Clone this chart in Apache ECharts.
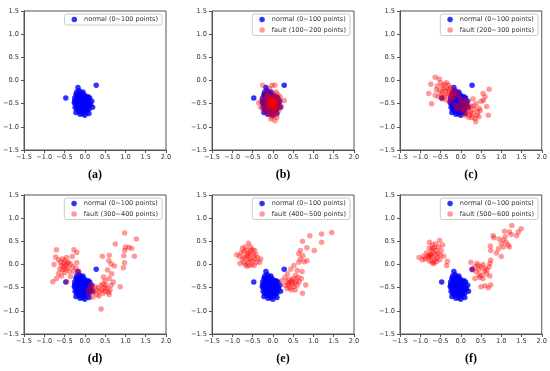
<!DOCTYPE html>
<html>
<head>
<meta charset="utf-8">
<script src="https://cdn.jsdelivr.net/npm/echarts@6/dist/echarts.min.js"></script>
<style>html,body{margin:0;padding:0;background:#fff}#c{width:550px;height:371px}</style>
</head>
<body>
<div id="c"></div>
<script>
const xTicks = [-1.5, -1.0, -0.5, 0.0, 0.5, 1.0, 1.5, 2.0];
const yTicks = [-1.5, -1.0, -0.5, 0.0, 0.5, 1.0, 1.5];
const captions = ['(a)', '(b)', '(c)', '(d)', '(e)', '(f)'];
const normalName = 'normal (0~100 points)';
const faultNames = [null, 'fault (100~200 points)', 'fault (200~300 points)', 'fault (300~400 points)', 'fault (400~500 points)', 'fault (500~600 points)'];

const normal = [
[-0.47,-0.38],[0.28,-0.10],[-0.17,-0.15],[-0.14,-0.22],[-0.20,-0.25],[-0.10,-0.27],[-0.05,-0.25],[-0.22,-0.30],[-0.12,-0.30],[-0.02,-0.30],
[0.03,-0.35],[0.08,-0.35],[0.12,-0.38],[-0.25,-0.38],[-0.18,-0.36],[-0.08,-0.36],[0.00,-0.40],[0.05,-0.42],[0.17,-0.45],[-0.26,-0.48],
[-0.20,-0.44],[-0.14,-0.42],[-0.06,-0.44],[0.02,-0.46],[0.10,-0.46],[-0.22,-0.52],[-0.16,-0.50],[-0.10,-0.48],[-0.03,-0.50],[0.06,-0.52],
[0.12,-0.50],[-0.24,-0.58],[-0.18,-0.56],[-0.12,-0.55],[-0.05,-0.56],[0.02,-0.58],[0.09,-0.56],[0.19,-0.58],[-0.20,-0.62],[-0.13,-0.62],
[-0.07,-0.60],[0.00,-0.63],[0.06,-0.62],[-0.22,-0.69],[-0.15,-0.67],[-0.08,-0.68],[-0.02,-0.66],[0.04,-0.68],[0.10,-0.71],[0.00,-0.75],
[-0.12,-0.73],[-0.05,-0.72],[-0.15,-0.45],[-0.08,-0.40],[-0.03,-0.42],[-0.12,-0.52],[-0.06,-0.52],[0.00,-0.52],[-0.18,-0.40],[-0.10,-0.58],
[-0.02,-0.62],[0.04,-0.48],[-0.20,-0.48],[-0.16,-0.60],[0.08,-0.40],[-0.04,-0.34],[-0.14,-0.34],[0.14,-0.53],[-0.09,-0.64],[0.03,-0.55],
[-0.11,-0.44],[-0.01,-0.47],[-0.07,-0.53],[-0.19,-0.33],[0.10,-0.62],[-0.25,-0.44]
];

const faultB = [
[-0.25,-0.10],[-0.02,-0.10],[0.05,-0.10],[-0.08,-0.18],[0.08,-0.25],[-0.18,-0.25],[-0.12,-0.30],[0.02,-0.28],[0.28,-0.43],[0.18,-0.35],
[-0.35,-0.48],[-0.30,-0.58],[-0.28,-0.42],[-0.22,-0.50],[0.05,-0.87],[-0.05,-0.83],[0.10,-0.80],[-0.02,-0.78],[-0.15,-0.72],[0.15,-0.65],
[0.20,-0.55],[0.12,-0.45],[-0.05,-0.40],[0.00,-0.42],[0.05,-0.44],[-0.10,-0.45],[-0.03,-0.46],[0.03,-0.48],[0.08,-0.50],[-0.08,-0.50],
[-0.01,-0.51],[0.04,-0.53],[-0.12,-0.55],[-0.05,-0.55],[0.01,-0.56],[0.07,-0.57],[-0.09,-0.60],[-0.02,-0.60],[0.04,-0.62],[0.10,-0.60],
[-0.15,-0.48],[-0.07,-0.35],[0.06,-0.37],[0.14,-0.40],[-0.18,-0.58],[-0.13,-0.65],[-0.04,-0.66],[0.03,-0.68],[0.09,-0.70],[0.00,-0.38],
[-0.06,-0.47],[0.02,-0.45],[0.06,-0.47],[-0.03,-0.53],[0.00,-0.49],[-0.10,-0.40],[-0.20,-0.38],[0.16,-0.52],[-0.24,-0.62],[-0.08,-0.72],
[0.05,-0.75],[0.12,-0.30],[-0.15,-0.35]
];

const faultC = [
[-0.63,0.07],[-0.53,0.03],[-0.74,-0.08],[-0.79,-0.28],[-0.72,-0.50],[-0.63,-0.32],[-0.58,-0.12],[-0.50,-0.05],[-0.45,-0.12],[-0.40,-0.08],
[-0.35,-0.05],[-0.30,-0.10],[-0.52,-0.22],[-0.46,-0.25],[-0.42,-0.18],[-0.38,-0.22],[-0.33,-0.18],[-0.28,-0.20],[-0.25,-0.15],[-0.22,-0.25],
[-0.36,-0.30],[-0.30,-0.28],[-0.25,-0.33],[-0.18,-0.28],[-0.12,-0.22],[-0.08,-0.30],[-0.55,-0.35],[-0.45,-0.40],[-0.35,-0.42],[-0.28,-0.45],
[-0.20,-0.40],[-0.15,-0.52],[-0.10,-0.62],[-0.05,-0.55],[0.00,-0.48],[0.05,-0.58],[0.10,-0.52],[0.12,-0.62],[0.15,-0.70],[0.18,-0.55],
[0.20,-0.65],[0.22,-0.75],[0.25,-0.68],[0.28,-0.80],[0.30,-0.72],[0.33,-0.62],[0.35,-0.82],[0.37,-0.89],[0.40,-0.75],[0.42,-0.68],
[0.45,-0.60],[0.48,-0.65],[0.50,-0.45],[0.56,-0.43],[0.60,-0.35],[0.64,-0.56],[0.68,-0.75],[0.70,-0.19],[0.55,-0.28],[0.38,-0.50],
[0.30,-0.40],[0.25,-0.55],[0.08,-0.42],[-0.02,-0.38],[0.15,-0.45],[-0.60,-0.20],[-0.48,-0.30],[-0.40,-0.35],[-0.18,-0.35],[0.02,-0.65],
[0.10,-0.75],[0.20,-0.80],[0.32,-0.55],[0.45,-0.78]
];

const faultD = [
[-0.70,0.32],[-0.72,0.16],[-0.76,0.00],[-0.79,-0.37],[-0.27,0.32],[-0.20,0.26],[-0.31,0.17],[-0.20,0.04],[-0.43,0.03],[-0.65,0.10],
[-0.60,0.05],[-0.55,0.12],[-0.50,0.08],[-0.45,0.15],[-0.58,-0.02],[-0.52,-0.05],[-0.46,-0.02],[-0.40,0.05],[-0.35,0.00],[-0.62,-0.10],
[-0.55,-0.12],[-0.48,-0.10],[-0.42,-0.08],[-0.38,-0.15],[-0.65,-0.20],[-0.58,-0.25],[-0.50,-0.18],[-0.70,-0.30],[-0.35,-0.26],[-0.27,-0.15],
[-0.22,-0.08],[-0.15,-0.15],[-0.45,-0.37],[-0.30,-0.05],[-0.52,0.02],
[0.14,-0.45],[0.18,-0.52],[0.22,-0.60],[0.25,-0.48],[0.28,-0.55],[0.30,-0.65],[0.33,-0.50],[0.36,-0.58],[0.40,-0.45],[0.42,-0.55],
[0.45,-0.62],[0.48,-0.50],[0.50,-0.58],[0.52,-0.45],[0.55,-0.52],[0.58,-0.60],[0.60,-0.65],[0.62,-0.55],[0.45,-0.42],[0.08,-0.55],
[0.10,-0.65],[0.20,-0.70],[0.35,-0.68],[0.40,-0.96],[0.87,-0.48],[0.65,-0.45],
[0.98,0.68],[1.27,0.55],[0.75,0.44],[1.00,0.37],[1.08,0.37],[0.98,0.30],[1.15,0.35],[1.22,0.18],[0.96,0.19],[0.98,0.04],
[0.95,-0.07],[0.43,0.18],[0.60,0.20],[0.59,0.08],[0.65,0.01],[0.73,-0.03],[0.56,-0.12],[0.66,-0.20],[0.46,-0.27],[0.60,-0.30],
[0.50,-0.35],[0.70,-0.38]
];

const faultE = [
[-0.60,0.46],[-0.68,0.38],[-0.75,0.35],[-0.55,0.38],[-0.50,0.32],[-0.45,0.30],[-0.89,0.21],[-0.82,0.18],[-0.78,0.25],[-0.72,0.28],
[-0.65,0.30],[-0.60,0.25],[-0.55,0.22],[-0.48,0.20],[-0.42,0.22],[-0.38,0.15],[-0.30,0.12],[-0.33,0.05],[-0.75,0.12],[-0.70,0.15],
[-0.65,0.18],[-0.60,0.10],[-0.55,0.12],[-0.50,0.08],[-0.45,0.12],[-0.40,0.05],[-0.81,0.02],[-0.72,0.05],[-0.68,0.00],[-0.62,0.05],
[-0.58,-0.02],[-0.52,0.00],[-0.46,-0.02],[-0.64,-0.04],[-0.55,0.30],[-0.62,0.20],
[0.22,-0.35],[0.30,-0.28],[0.35,-0.38],[0.38,-0.45],[0.40,-0.32],[0.42,-0.50],[0.45,-0.38],[0.48,-0.42],[0.50,-0.30],[0.52,-0.48],
[0.55,-0.40],[0.58,-0.35],[0.60,-0.45],[0.62,-0.28],[0.65,-0.38],[0.45,-0.55],[0.35,-0.52],[0.30,-0.45],[0.40,-0.40],[0.73,-0.62],
[0.81,-0.44],[0.70,-0.30],[0.55,-0.55],[0.47,-0.35],
[1.45,0.69],[1.20,0.66],[0.91,0.62],[0.73,0.50],[1.20,0.48],[0.84,0.36],[1.02,0.30],[0.68,0.30],[0.64,0.23],[0.74,0.19],
[0.68,0.12],[0.84,0.08],[0.77,0.06],[0.64,0.05],[0.52,-0.02],[0.44,-0.10],[0.60,-0.13],[0.36,-0.20],[0.56,-0.24],[0.72,-0.15]
];

const faultF = [
[-0.77,0.48],[-0.52,0.52],[-0.62,0.45],[-0.70,0.42],[-0.45,0.42],[-0.55,0.38],[-0.65,0.36],[-0.78,0.35],[-0.72,0.30],[-0.60,0.30],
[-0.48,0.30],[-0.85,0.25],[-0.80,0.20],[-0.74,0.22],[-0.68,0.25],[-0.62,0.22],[-0.56,0.24],[-0.50,0.20],[-0.42,0.18],[-0.92,0.18],
[-1.03,0.15],[-0.88,0.12],[-0.82,0.15],[-0.77,0.17],[-0.70,0.15],[-0.64,0.12],[-0.58,0.14],[-0.52,0.10],[-0.78,0.08],[-0.72,0.06],
[-0.66,0.04],[-0.68,0.02],[-0.60,0.06],[-0.95,0.10],[-0.33,0.07],[-0.35,-0.02],[-0.75,0.20],[-0.70,0.35],
[0.25,0.05],[0.29,-0.12],[0.35,-0.05],[0.40,0.02],[0.43,-0.02],[0.38,-0.15],[0.45,-0.10],[0.50,-0.05],[0.55,0.00],[0.60,-0.08],
[0.65,-0.12],[0.70,-0.05],[0.72,0.02],[0.74,0.09],[0.64,-0.20],[0.51,-0.24],[0.47,-0.28],[0.55,-0.30],[0.45,-0.22],[0.72,-0.25],
[0.60,-0.46],[0.50,-0.48],[0.74,-0.44],[0.68,-0.50],[0.58,-0.15],[0.35,-0.30],
[1.49,0.77],[1.26,0.84],[1.42,0.70],[1.08,0.72],[1.20,0.70],[1.05,0.53],[0.80,0.62],[0.82,0.58],[0.95,0.55],[1.10,0.60],
[1.17,0.42],[1.20,0.38],[1.12,0.48],[1.00,0.45],[0.93,0.34],[0.73,0.40],[0.74,0.30],[1.00,0.17],[1.25,0.65],[1.38,0.62],
[0.88,0.25],[1.05,0.38]
];

const faults = [null, faultB, faultC, faultD, faultE, faultF];

// layout
const colLeft = [24, 212, 400];
const rowTop = [11, 195];
const plotW = 142, plotH = 139;
const captionY = [175, 359];
const font = 'DejaVu Sans';
const spine = '#555';
const txt = '#333';

function fmt(v) {
  const s = Math.abs(v).toFixed(1);
  return (v < -1e-9 ? '\u2212' : '') + s;
}

const grids = [], xAxes = [], yAxes = [], series = [], legends = [], graphics = [];
for (let i = 0; i < 6; i++) {
  const c = i % 3, r = Math.floor(i / 3);
  grids.push({ left: colLeft[c], top: rowTop[r], width: plotW, height: plotH, show: true,
    borderColor: spine, borderWidth: 1, backgroundColor: 'transparent', containLabel: false });
  const axisCommon = {
    axisLine: { show: true, onZero: false, lineStyle: { color: spine, width: 1 } },
    axisTick: { show: true, inside: false, length: 3, lineStyle: { color: spine } },
    splitLine: { show: false },
    axisLabel: { color: txt, fontSize: 6.6, fontFamily: font, formatter: fmt }
  };
  xAxes.push(Object.assign({ type: 'value', gridIndex: i, min: xTicks[0], max: xTicks[xTicks.length - 1],
    interval: xTicks[1] - xTicks[0] }, axisCommon, { axisLabel: Object.assign({}, axisCommon.axisLabel, { margin: 4 }) }));
  yAxes.push(Object.assign({ type: 'value', gridIndex: i, min: yTicks[0], max: yTicks[yTicks.length - 1],
    interval: yTicks[1] - yTicks[0] }, axisCommon, { axisLabel: Object.assign({}, axisCommon.axisLabel, { margin: 5 }) }));
  series.push({ type: 'scatter', name: normalName, xAxisIndex: i, yAxisIndex: i, data: normal,
    symbolSize: 5.5, itemStyle: { color: '#0000ff' }, z: 2, silent: true });
  const ld = [normalName];
  if (faults[i]) {
    series.push({ type: 'scatter', name: faultNames[i], xAxisIndex: i, yAxisIndex: i, data: faults[i],
      symbolSize: 5.5, itemStyle: { color: 'rgba(255,0,0,0.5)' }, z: 3, silent: true });
    ld.push(faultNames[i]);
  }
  legends.push({ data: ld, orient: 'vertical', right: 550 - (colLeft[c] + plotW - 4), top: rowTop[r] + 3,
    icon: 'circle', itemWidth: 5.5, itemHeight: 5.5, itemGap: 3.5, padding: [2, 4, 2, 7],
    borderColor: '#ccc', borderWidth: 1, borderRadius: 2, backgroundColor: '#fff',
    textStyle: { fontSize: 6.5, color: txt, fontFamily: font, padding: [0, 0, 0, 2] }, selectedMode: false });
  graphics.push({ type: 'text', x: colLeft[c] + plotW / 2, y: captionY[r],
    style: { text: captions[i], font: 'bold 12px "Liberation Serif"', fill: '#000', textAlign: 'center', textVerticalAlign: 'middle' } });
}

const chart = echarts.init(document.getElementById('c'), null, { renderer: 'canvas' });
chart.setOption({
  animation: false,
  backgroundColor: '#fff',
  grid: grids, xAxis: xAxes, yAxis: yAxes, series: series, legend: legends, graphic: graphics
});
</script>
</body>
</html>
